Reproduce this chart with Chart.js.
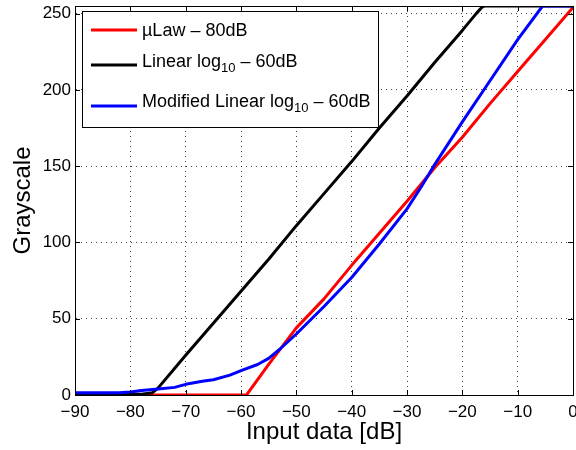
<!DOCTYPE html>
<html>
<head>
<meta charset="utf-8">
<script src="https://cdn.jsdelivr.net/npm/chart.js@4.4.1/dist/chart.umd.min.js"></script>
<style>
  html, body { margin: 0; padding: 0; background: #fff; overflow: hidden; }
  canvas { display: block; }
</style>
</head>
<body>
<canvas id="chart" width="576" height="450"></canvas>
<script>
// Grayscale mapping curves (input level in dB)
const seriesNames = ['\u00b5Law \u2013 80dB', 'Linear log_{10} \u2013 60dB', 'Modified Linear log_{10} \u2013 60dB'];
const seriesColors = ['#ff0000', '#000000', '#0000ff'];

const muLawDb   = [-90, -59, -55, -50, -45, -40, -35, -30, -25, -20, -15, -10, -5, 0];
const muLawGray = [0, 0, 20, 44, 63, 85, 106, 127, 149, 169, 191, 212, 233, 254];

const linDb   = [-90, -78, -76, -75, -70, -65, -60, -55, -50, -45, -40, -35, -30, -25, -20, -17.5, -16.5, -16, 0];
const linGray = [0.5, 0.5, 1.5, 4.5, 26, 47, 68, 89, 111, 132, 153, 175, 196, 218, 239, 250, 254, 255, 255];

const modDb   = [-90, -82, -80, -78, -75, -72, -70, -67, -65, -62, -60, -57, -55, -53, -50, -45, -40, -35, -30, -27.5, -25, -20, -15, -10, -5.5, 0];
const modGray = [1.5, 1.5, 2, 3, 4, 5, 7, 9, 10, 13, 16, 20, 24, 30, 40, 58, 77, 99, 122, 136, 151, 179, 206, 233, 255, 255];

const xTicks = [-90, -80, -70, -60, -50, -40, -30, -20, -10, 0];
const yTicks = [0, 50, 100, 150, 200, 250];

const FONT = '"Liberation Sans", Arial, sans-serif';

function pts(xs, ys) {
  return xs.map((x, i) => ({ x: x, y: ys[i] }));
}

function fmt(v) {
  return v < 0 ? '\u2212' + Math.abs(v) : String(v);
}

// box around the axes plus inward tick marks, MATLAB style
const framePlugin = {
  id: 'frame',
  afterDatasetsDraw(chart) {
    const { ctx, chartArea: a, scales } = chart;
    ctx.save();
    ctx.strokeStyle = '#000';
    ctx.lineWidth = 1;
    ctx.beginPath();
    xTicks.forEach(v => {
      const px = Math.round(scales.x.getPixelForValue(v)) + 0.5;
      ctx.moveTo(px, a.bottom); ctx.lineTo(px, a.bottom - 5);
      ctx.moveTo(px, a.top); ctx.lineTo(px, a.top + 5);
    });
    yTicks.forEach(v => {
      const py = Math.round(scales.y.getPixelForValue(v)) + 0.5;
      ctx.moveTo(a.left, py); ctx.lineTo(a.left + 5, py);
      ctx.moveTo(a.right, py); ctx.lineTo(a.right - 5, py);
    });
    ctx.stroke();
    ctx.strokeRect(Math.round(a.left) + 0.5, Math.round(a.top) + 0.5,
                   Math.round(a.right - a.left), Math.round(a.bottom - a.top));
    ctx.restore();
  }
};

// text with _{..} subscripts
function drawRich(ctx, text, x, y, size) {
  const parts = text.split(/(_\{[^}]*\})/);
  parts.forEach(p => {
    if (!p) return;
    if (p.startsWith('_{')) {
      const s = p.slice(2, -1);
      ctx.font = Math.round(size * 0.72) + 'px ' + FONT;
      ctx.fillText(s, x, y + size * 0.38);
      x += ctx.measureText(s).width;
    } else {
      ctx.font = size + 'px ' + FONT;
      ctx.fillText(p, x, y);
      x += ctx.measureText(p).width;
    }
  });
}

const legendPlugin = {
  id: 'boxLegend',
  afterDraw(chart) {
    const { ctx, chartArea: a } = chart;
    const x0 = a.left + 7, y0 = a.top + 5;
    const rows = [24, 59, 100];
    const textDy = [1, -3, -4];
    ctx.save();
    ctx.fillStyle = '#fff';
    ctx.fillRect(x0, y0, 296, 116);
    ctx.strokeStyle = '#000';
    ctx.lineWidth = 1;
    ctx.strokeRect(Math.round(x0) + 0.5, Math.round(y0) + 0.5, 296, 116);
    seriesNames.forEach((name, i) => {
      const ly = a.top + rows[i];
      ctx.strokeStyle = seriesColors[i];
      ctx.lineWidth = 3;
      ctx.beginPath();
      ctx.moveTo(x0 + 9, ly);
      ctx.lineTo(x0 + 55, ly);
      ctx.stroke();
      ctx.fillStyle = '#000';
      ctx.textBaseline = 'middle';
      ctx.textAlign = 'left';
      drawRich(ctx, name, x0 + 60, ly + textDy[i], 18);
    });
    ctx.restore();
  }
};

const dataX = [muLawDb, linDb, modDb];
const dataY = [muLawGray, linGray, modGray];

const config = {
  type: 'line',
  data: {
    datasets: seriesNames.map((name, i) => ({
      label: name,
      data: pts(dataX[i], dataY[i]),
      borderColor: seriesColors[i],
      backgroundColor: seriesColors[i],
      borderWidth: 3,
      borderJoinStyle: 'round',
      pointRadius: 0,
      tension: 0,
      order: 2 - i
    }))
  },
  options: {
    responsive: false,
    animation: false,
    devicePixelRatio: 1,
    layout: { padding: { top: 6, right: 3, left: 0, bottom: 0 } },
    plugins: {
      legend: { display: false },
      tooltip: { enabled: false }
    },
    scales: {
      x: {
        type: 'linear',
        min: -90,
        max: 0,
        afterBuildTicks: s => { s.ticks = xTicks.map(v => ({ value: v })); },
        afterFit: s => { s.height = 55; s.paddingLeft = 0; s.paddingRight = 0; },
        ticks: {
          color: '#000',
          font: { family: FONT, size: 17 },
          padding: 7,
          maxRotation: 0,
          autoSkip: false,
          callback: v => fmt(v)
        },
        grid: {
          color: 'rgba(0,0,0,0.75)',
          drawTicks: false
        },
        border: { display: true, color: '#000', width: 1, dash: [1, 4] },
        title: {
          display: true,
          text: 'Input data [dB]',
          color: '#000',
          font: { family: FONT, size: 24, lineHeight: 1 },
          padding: { top: 0, bottom: 6 }
        }
      },
      y: {
        type: 'linear',
        min: 0,
        max: 255,
        afterBuildTicks: s => { s.ticks = yTicks.map(v => ({ value: v })); },
        afterFit: s => { s.width = 75; s.paddingTop = 0; s.paddingBottom = 0; },
        ticks: {
          color: '#000',
          font: { family: FONT, size: 17 },
          padding: 4,
          callback: v => fmt(v)
        },
        grid: {
          color: 'rgba(0,0,0,0.75)',
          drawTicks: false
        },
        border: { display: true, color: '#000', width: 1, dash: [1, 4] },
        title: {
          display: true,
          text: 'Grayscale',
          color: '#000',
          font: { family: FONT, size: 24, lineHeight: 1 },
          padding: { top: 11, bottom: 0 }
        }
      }
    }
  },
  plugins: [framePlugin, legendPlugin]
};

const ctx = document.getElementById('chart').getContext('2d');
new Chart(ctx, config);
</script>
</body>
</html>
